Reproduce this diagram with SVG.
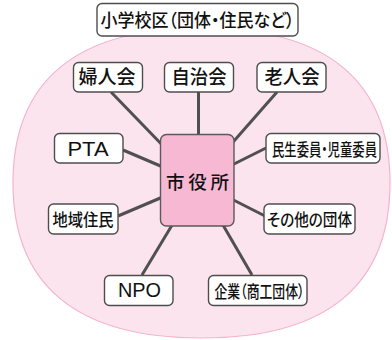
<svg xmlns="http://www.w3.org/2000/svg" width="392" height="340" viewBox="0 0 392 340">
<style>
.area{fill:#fce4ee;stroke:#f5b3cd;stroke-width:1.2}
.box{fill:#ffffff;stroke:#4d4d4d;stroke-width:1.4}
.hub{fill:#f6b8d3;stroke:#5a5a5a;stroke-width:1.4}
.t{font-family:"Noto Sans CJK JP","Noto Sans",sans-serif;font-weight:500;fill:#111;text-anchor:middle;font-feature-settings:"palt"}
.l{font-family:"Liberation Sans",Arial,sans-serif;fill:#111;text-anchor:middle}
#edges line{stroke:#505050;stroke-width:3;stroke-linecap:butt}
</style>
<path class="area" d="M13,183 C13,82 75,28 201.5,28 C328,28 390,82 390,183 C390,284 328,338 201.5,338 C75,338 13,284 13,183 Z"/>
<g id="edges">
<line x1="111" y1="92" x2="198" y2="182"/>
<line x1="198.5" y1="92" x2="198.5" y2="182"/>
<line x1="277" y1="92" x2="198" y2="182"/>
<line x1="123" y1="150" x2="198" y2="182"/>
<line x1="266" y1="148" x2="198" y2="182"/>
<line x1="118" y1="216" x2="198" y2="182"/>
<line x1="265" y1="216" x2="198" y2="182"/>
<line x1="142" y1="275" x2="198" y2="182"/>
<line x1="252" y1="275" x2="198" y2="182"/>
</g>
<g id="title">
<rect class="box" x="97" y="3.5" width="201" height="32.5" rx="5"/>
<text class="t" x="197.5" y="26.5" font-size="18" textLength="194" lengthAdjust="spacingAndGlyphs">小学校区（団体・住民など）</text>
</g>
<g id="fujinkai">
<rect class="box" x="73.5" y="62.5" width="69" height="29.5" rx="5"/>
<text class="t" x="107" y="84" font-size="19" textLength="57" lengthAdjust="spacingAndGlyphs">婦人会</text>
</g>
<g id="jichikai">
<rect class="box" x="164.5" y="62.5" width="69" height="29.5" rx="5"/>
<text class="t" x="199" y="84" font-size="19" textLength="55" lengthAdjust="spacingAndGlyphs">自治会</text>
</g>
<g id="roujinkai">
<rect class="box" x="257" y="62.5" width="69" height="29.5" rx="5"/>
<text class="t" x="292" y="84" font-size="19" textLength="55" lengthAdjust="spacingAndGlyphs">老人会</text>
</g>
<g id="pta">
<rect class="box" x="54.5" y="133.5" width="68.5" height="29.5" rx="5"/>
<text class="l" x="88" y="156" font-size="19.5" textLength="41" lengthAdjust="spacingAndGlyphs">PTA</text>
</g>
<g id="minsei">
<rect class="box" x="266" y="133.5" width="114" height="29.5" rx="5"/>
<text class="t" x="324.5" y="156" font-size="17" textLength="105" lengthAdjust="spacingAndGlyphs">民生委員・児童委員</text>
</g>
<g id="chiiki">
<rect class="box" x="48.5" y="204" width="69.5" height="30" rx="5"/>
<text class="t" x="83" y="226" font-size="17" textLength="61" lengthAdjust="spacingAndGlyphs">地域住民</text>
</g>
<g id="sonota">
<rect class="box" x="264" y="204" width="91" height="30" rx="5"/>
<text class="t" x="309.5" y="226" font-size="17" textLength="85" lengthAdjust="spacingAndGlyphs">その他の団体</text>
</g>
<g id="npo">
<rect class="box" x="104.5" y="275.5" width="68.5" height="30" rx="5"/>
<text class="l" x="139.5" y="297" font-size="19.5" textLength="43" lengthAdjust="spacingAndGlyphs">NPO</text>
</g>
<g id="kigyou">
<rect class="box" x="208.5" y="275.5" width="98.5" height="30" rx="5"/>
<text class="t" x="259.5" y="298" font-size="17" textLength="90" lengthAdjust="spacingAndGlyphs">企業（商工団体）</text>
</g>
<g id="shiyakusho">
<rect class="hub" x="160.5" y="134.5" width="73.5" height="91.5" rx="6"/>
<text class="t" x="197.5" y="188.5" font-size="18.5" textLength="63" lengthAdjust="spacing">市役所</text>
</g>
</svg>
